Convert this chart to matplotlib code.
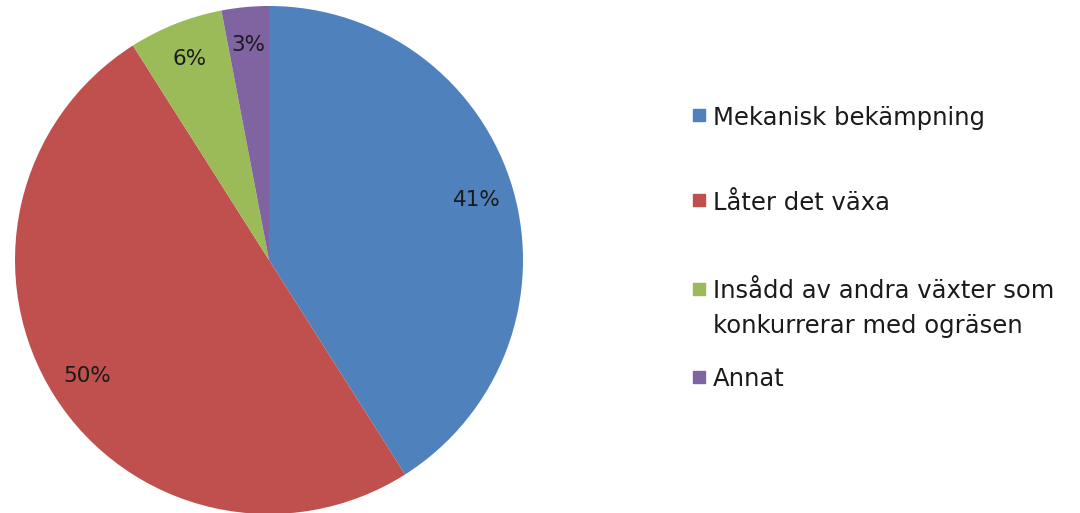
import matplotlib.pyplot as plt
from matplotlib.patches import Rectangle

labels = ['Mekanisk bekämpning', 'Låter det växa',
          'Insådd av andra växter som\nkonkurrerar med ogräsen', 'Annat']
values = [41, 50, 6, 3]
colors = ['#4F81BD', '#C0504D', '#9BBB59', '#8064A2']

plt.rcParams['font.family'] = ['DejaVu Sans']

W, H = 1080, 513
fig = plt.figure(figsize=(W / 100, H / 100), dpi=100)

# pie: centre (269, 260), radius 254 px
cx, cy, r = 269, 260, 254
ax = fig.add_axes([(cx - r) / W, (H - cy - r) / H, 2 * r / W, 2 * r / H])
ax.pie(values, colors=colors, startangle=90, counterclock=False,
       autopct='%d%%', pctdistance=0.85,
       wedgeprops={'linewidth': 0},
       textprops={'fontsize': 15.5, 'color': '#1a1a1a'})
ax.set_aspect('equal')
ax.set_xlim(-1, 1)
ax.set_ylim(-1, 1)

# legend drawn by hand to match the spacing
legend_y = [115, 200, 289, 377]
line_gap = 34
for lab, col, y in zip(labels, colors, legend_y):
    fig.patches.append(Rectangle((693 / W, (H - y - 6) / H), 12 / W, 12 / H,
                                 transform=fig.transFigure, color=col))
    for i, line in enumerate(lab.split('\n')):
        fig.text(713 / W, (H - y - i * line_gap) / H, line, fontsize=17.5,
                 va='center_baseline', ha='left', color='#1a1a1a')

plt.savefig('out.png', dpi=100)
